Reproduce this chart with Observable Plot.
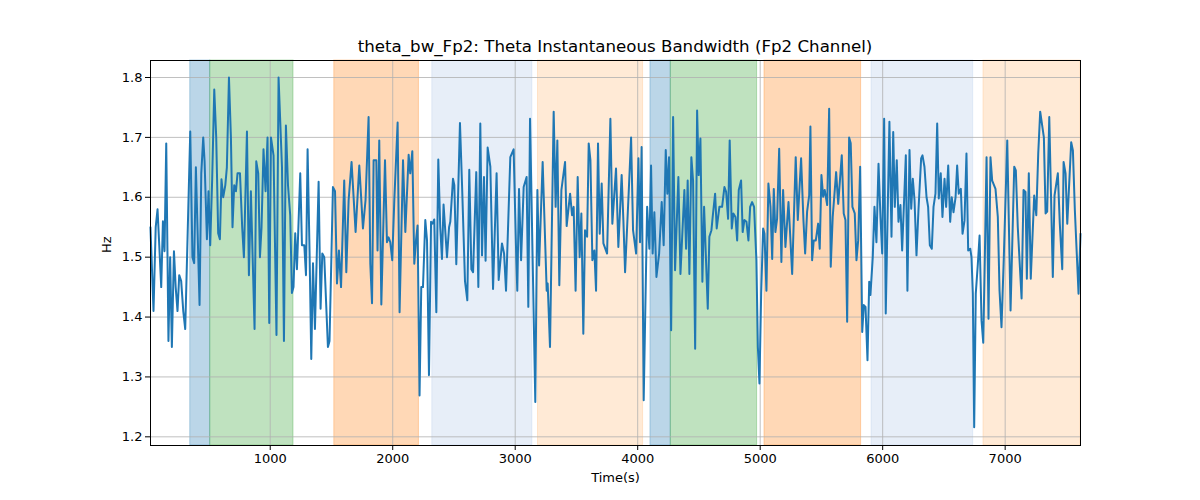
<!DOCTYPE html>
<html><head><meta charset="utf-8">
<script src="https://cdn.jsdelivr.net/npm/d3@7"></script>
<script src="https://cdn.jsdelivr.net/npm/@observablehq/plot@0.6"></script>
<style>
body{margin:0;background:#fff;}
#fig{position:relative;width:1200px;height:500px;font-family:"DejaVu Sans",sans-serif;}
#title{position:absolute;left:150px;width:930px;top:37px;line-height:20px;font-size:16.67px;text-align:center;color:#000;white-space:nowrap;}
</style></head><body>
<div id="fig"><div id="title">theta_bw_Fp2: Theta Instantaneous Bandwidth (Fp2 Channel)</div></div>
<script>
// Time (s) of each sample
const timeS = [
22,47,65,80,94,110,124,137,151,169,
183,197,214,228,243,257,273,290,306,347,
365,379,393,423,437,453,464,483,496,510,
526,543,559,575,589,602,616,633,646,663,
679,692,706,720,733,753,771,785,810,826,
842,872,886,902,916,929,945,962,978,992,
1006,1027,1051,1068,1096,1112,1128,1145,1163,1177,
1190,1204,1218,1245,1259,1278,1292,1305,1321,1335,
1349,1365,1395,1411,1425,1441,1471,1484,1512,1529,
1545,1561,1578,1604,1621,1640,1664,1697,1727,1757,
1778,1803,1817,1831,1844,1866,1876,1890,1907,1937,
1953,1966,1980,1996,2013,2040,2056,2084,2103,2130,
2143,2160,2176,2190,2203,2219,2233,2247,2266,2280,
2296,2313,2326,2339,2356,2372,2388,2402,2415,2443,
2460,2470,2492,2503,2519,2549,2566,2590,2609,2625,
2642,2656,2682,2699,2715,2729,2745,2758,2775,2797,
2819,2848,2865,2892,2909,2925,2960,2987,3009,3017,
3031,3048,3069,3093,3107,3121,3164,3181,3195,3224,
3257,3265,3284,3314,3330,3344,3360,3377,3407,3420,
3448,3464,3477,3493,3510,3526,3540,3556,3570,3587,
3600,3614,3630,3646,3660,3676,3690,3706,3720,3750,
3777,3793,3823,3842,3869,3883,3897,3926,3946,3962,
3987,4006,4019,4032,4049,4077,4095,4109,4122,4136,
4153,4175,4196,4212,4229,4242,4256,4273,4289,4305,
4332,4349,4381,4395,4408,4422,4438,4452,4469,4485,
4498,4512,4528,4542,4572,4585,4602,4612,4632,4645,
4667,4689,4708,4722,4738,4751,4768,4781,4798,4812,
4825,4844,4857,4871,4888,4904,4918,4934,4950,4969,
4981,4994,5008,5024,5035,5051,5067,5084,5098,5111,
5124,5138,5155,5173,5187,5206,5231,5261,5290,5307,
5334,5353,5367,5383,5400,5410,5424,5437,5454,5473,
5486,5500,5514,5527,5547,5563,5576,5592,5620,5637,
5666,5682,5696,5710,5726,5739,5753,5772,5786,5800,
5816,5833,5846,5860,5876,5890,5900,5919,5933,5949,
5966,5982,5996,6012,6025,6055,6072,6086,6099,6115,
6129,6145,6159,6189,6202,6219,6233,6246,6260,6276,
6292,6314,6325,6341,6358,6371,6385,6401,6415,6431,
6445,6458,6474,6488,6505,6518,6535,6551,6564,6578,
6595,6608,6621,6638,6652,6668,6684,6698,6715,6725,
6736,6747,6760,6777,6791,6807,6821,6834,6848,6864,
6880,6894,6921,6940,6954,6970,6989,7017,7044,7074,
7087,7103,7134,7150,7166,7177,7193,7209,7237,7254,
7270,7286,7316,7330,7343,7360,7389,7403,7430,7446,
7466,7477,7493,7507,7539,7553,7569,7599,7615
];
// Theta instantaneous bandwidth (Hz)
const bandwidthHz = [
1.55,1.41,1.55,1.58,1.52,1.45,1.56,1.51,1.69,1.36,
1.50,1.35,1.51,1.45,1.41,1.47,1.46,1.41,1.38,1.71,
1.50,1.49,1.65,1.42,1.64,1.70,1.66,1.53,1.61,1.52,
1.63,1.78,1.70,1.54,1.53,1.63,1.60,1.62,1.65,1.80,
1.70,1.55,1.62,1.61,1.64,1.64,1.55,1.50,1.71,1.47,
1.61,1.38,1.66,1.64,1.50,1.55,1.68,1.61,1.70,1.39,
1.70,1.67,1.37,1.80,1.65,1.36,1.72,1.62,1.57,1.44,
1.45,1.54,1.48,1.64,1.52,1.52,1.47,1.68,1.51,1.33,
1.49,1.38,1.626,1.414,1.506,1.50,1.35,1.36,1.617,1.61,
1.456,1.511,1.45,1.628,1.475,1.595,1.659,1.542,1.653,1.548,
1.595,1.734,1.489,1.423,1.662,1.662,1.511,1.695,1.421,1.662,
1.525,1.533,1.525,1.495,1.595,1.725,1.408,1.662,1.542,1.671,
1.64,1.677,1.489,1.528,1.553,1.269,1.45,1.45,1.562,1.528,
1.303,1.559,1.556,1.563,1.408,1.663,1.55,1.497,1.588,1.50,
1.55,1.559,1.631,1.62,1.488,1.724,1.62,1.46,1.428,1.646,
1.48,1.475,1.642,1.45,1.723,1.503,1.634,1.494,1.683,1.651,
1.447,1.64,1.462,1.523,1.506,1.444,1.667,1.68,1.495,1.444,
1.614,1.495,1.617,1.634,1.417,1.731,1.258,1.612,1.486,1.659,
1.444,1.456,1.35,1.743,1.584,1.695,1.453,1.612,1.659,1.552,
1.606,1.57,1.584,1.444,1.634,1.50,1.573,1.372,1.545,1.534,
1.69,1.662,1.495,1.511,1.444,1.69,1.539,1.623,1.523,1.506,
1.731,1.556,1.648,1.517,1.637,1.562,1.475,1.606,1.70,1.545,
1.506,1.665,1.525,1.684,1.261,1.584,1.514,1.653,1.506,1.575,
1.467,1.506,1.592,1.52,1.679,1.606,1.667,1.378,1.734,1.478,
1.634,1.472,1.612,1.514,1.628,1.472,1.667,1.628,1.347,1.745,
1.637,1.698,1.459,1.584,1.414,1.534,1.545,1.567,1.606,1.548,
1.584,1.584,1.617,1.609,1.564,1.695,1.548,1.573,1.567,1.528,
1.612,1.628,1.542,1.562,1.559,1.528,1.584,1.592,1.584,1.495,
1.35,1.289,1.44,1.548,1.539,1.444,1.623,1.584,1.497,1.614,
1.542,1.564,1.681,1.492,1.612,1.517,1.592,1.472,1.667,1.562,
1.665,1.562,1.506,1.576,1.603,1.718,1.495,1.528,1.528,1.556,
1.514,1.637,1.601,1.612,1.587,1.748,1.484,1.567,1.642,1.589,
1.67,1.573,1.562,1.392,1.70,1.69,1.584,1.573,1.495,1.528,
1.651,1.375,1.42,1.417,1.328,1.459,1.437,1.50,1.584,1.525,
1.656,1.567,1.506,1.731,1.406,1.726,1.534,1.709,1.584,1.662,
1.559,1.587,1.511,1.67,1.444,1.679,1.581,1.631,1.595,1.503,
1.578,1.665,1.67,1.651,1.60,1.584,1.52,1.514,1.584,1.606,
1.723,1.598,1.64,1.567,1.631,1.584,1.653,1.559,1.60,1.575,
1.60,1.653,1.606,1.614,1.539,1.561,1.673,1.511,1.514,1.50,
1.439,1.216,1.439,1.489,1.536,1.394,1.357,1.50,1.667,1.397,
1.667,1.628,1.614,1.567,1.444,1.383,1.50,1.695,1.411,1.651,
1.645,1.55,1.431,1.612,1.609,1.464,1.64,1.464,1.603,1.57,
1.673,1.743,1.70,1.573,1.576,1.734,1.467,1.603,1.64,1.556,
1.48,1.659,1.64,1.556,1.692,1.678,1.578,1.439,1.539
];
// Shaded stage intervals
const spanStart = [347, 510, 1523, 2323, 3186, 4104, 4270, 5035, 5909, 6823];
const spanEnd   = [510, 1190, 2214, 3140, 4044, 4270, 4975, 5824, 6739, 7615];
const spanKind  = ["a", "b", "c", "d", "e", "a", "b", "c", "d", "e"];
const xTicks = [1000, 2000, 3000, 4000, 5000, 6000, 7000];
const yTicks = [1.2, 1.3, 1.4, 1.5, 1.6, 1.7, 1.8];

const kindColor = {a: "#1f77b4", b: "#2ca02c", c: "#ff7f0e", d: "#aec7e8", e: "#ffbb78"};

const series = timeS.map((t, i) => ({t, v: bandwidthHz[i]}));
const spans = spanStart.map((s, i) => ({start: s, end: spanEnd[i], kind: spanKind[i]}));

const chart = Plot.plot({
  width: 1200, height: 500,
  marginTop: 60, marginBottom: 55, marginLeft: 150, marginRight: 120,
  style: {fontFamily: "DejaVu Sans", fontSize: "13px", background: "white", color: "black", overflow: "visible"},
  x: {domain: [22.5, 7615]},
  y: {domain: [1.1855, 1.8284]},
  color: {type: "identity"},
  marks: [
    Plot.rect(spans, {x1: "start", x2: "end", fill: d => kindColor[d.kind], fillOpacity: 0.3,
      stroke: d => kindColor[d.kind], strokeOpacity: 0.3, strokeWidth: 1}),
    Plot.gridX(xTicks, {stroke: "#b0b0b0", strokeOpacity: 1, strokeWidth: 0.8}),
    Plot.gridY(yTicks, {stroke: "#b0b0b0", strokeOpacity: 1, strokeWidth: 0.8}),
    Plot.line(series, {x: "t", y: "v", stroke: "#1f77b4", strokeWidth: 2}),
    Plot.frame({stroke: "black", strokeWidth: 1}),
    Plot.axisX(xTicks, {tickSize: 5, tickPadding: 3, tickFormat: d3.format("d"), label: null}),
    Plot.axisY(yTicks, {tickSize: 5, tickPadding: 3, tickFormat: d3.format(".1f"), label: null}),
    Plot.text(["Time(s)"], {frameAnchor: "bottom", dy: 36, text: d => d}),
    Plot.text(["Hz"], {frameAnchor: "left", dx: -44, rotate: -90, text: d => d})
  ]
});
document.getElementById("fig").appendChild(chart);
chart.style.position = "absolute";
chart.style.left = "0px";
chart.style.top = "0px";
document.getElementById("title").style.zIndex = 2;
</script>
</body></html>
